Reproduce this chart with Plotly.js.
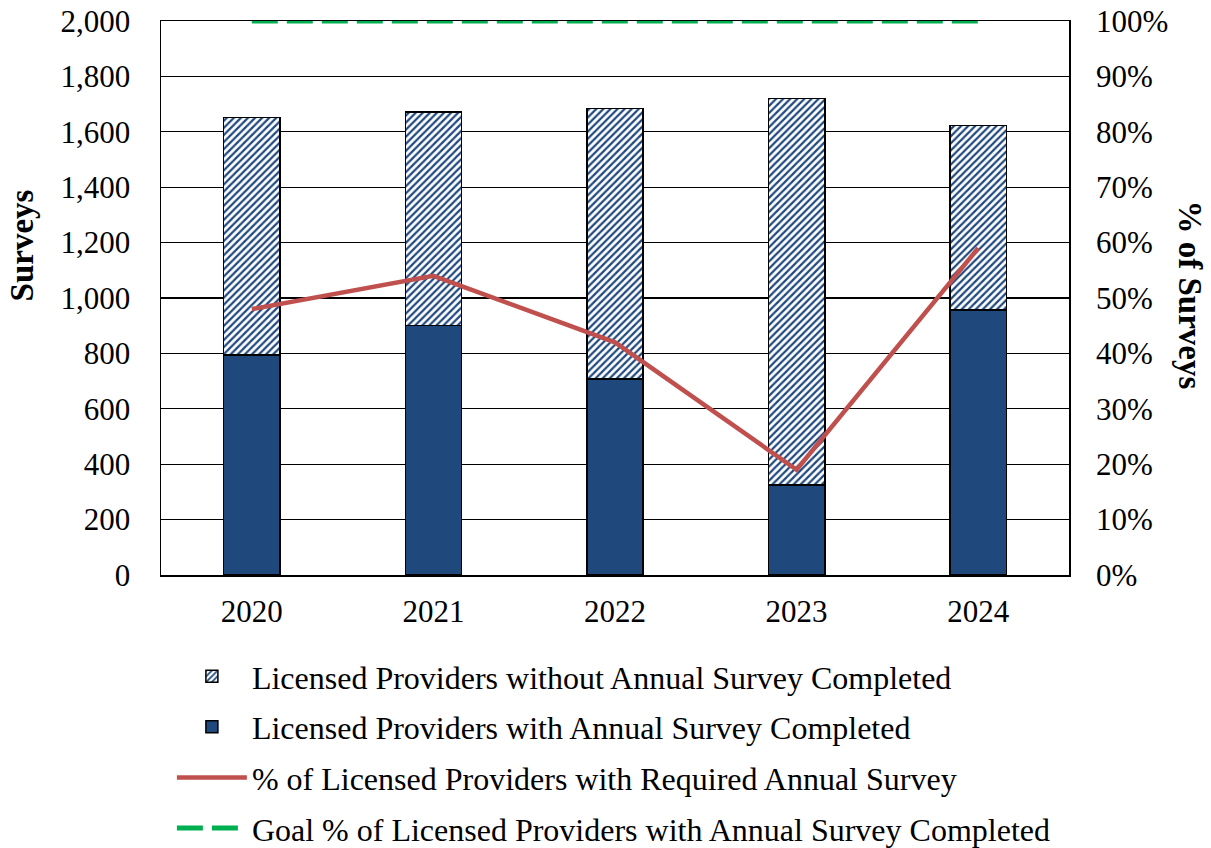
<!DOCTYPE html>
<html>
<head>
<meta charset="utf-8">
<script src="https://cdn.plot.ly/plotly-3.0.1.min.js"></script>
<style>html,body{margin:0;padding:0;background:#fff;}#chart{width:1211px;height:848px;}</style>
</head>
<body>
<div id="chart"></div>
<script>
const years = ['2020', '2021', '2022', '2023', '2024'];
const withSurvey = [794, 900, 708, 325, 957];
const withoutSurvey = [857, 771, 977, 1396, 665];
const pctRequired = [0.48, 0.54, 0.42, 0.19, 0.59];
const goalPct = [1, 1, 1, 1, 1];

const FONT = 'Liberation Serif, Times New Roman, serif';
const NAVY = '#1F497D';

const traces = [
  {
    type: 'bar', x: years, y: withSurvey,
    name: 'Licensed Providers with Annual Survey Completed',
    marker: {color: NAVY, line: {color: '#000', width: 1.5}},
    width: 0.31, legendrank: 2, legendgroup: 'b', hoverinfo: 'y'
  },
  {
    type: 'bar', x: years, y: withoutSurvey,
    name: 'Licensed Providers without Annual Survey Completed',
    marker: {color: '#fff', line: {color: '#000', width: 1.5},
      pattern: {shape: '/', fgcolor: NAVY, bgcolor: '#fff', size: 5, solidity: 0.45}},
    width: 0.31, legendrank: 1, legendgroup: 'a', hoverinfo: 'y'
  },
  {
    type: 'scatter', mode: 'lines', x: years, y: pctRequired, yaxis: 'y2',
    name: '% of Licensed Providers with Required Annual Survey',
    line: {color: '#C0504D', width: 4.5}, legendrank: 3, legendgroup: 'c'
  },
  {
    type: 'scatter', mode: 'lines', x: years, y: goalPct, yaxis: 'y2',
    name: 'Goal % of Licensed Providers with Annual Survey Completed',
    line: {color: '#00B050', width: 5, dash: '26px,9px'}, legendrank: 4, legendgroup: 'd',
    cliponaxis: false
  }
];

const layout = {
  width: 1211, height: 848,
  margin: {l: 161, r: 142, t: 21, b: 273},
  paper_bgcolor: '#fff', plot_bgcolor: '#fff',
  font: {family: FONT, size: 31, color: '#000'},
  barmode: 'stack',
  showlegend: true,
  legend: {
    xref: 'paper', yref: 'container',
    x: 0.012, xanchor: 'left', y: 0.2347, yanchor: 'top',
    orientation: 'v', traceorder: 'grouped', tracegroupgap: 6,
    itemwidth: 70, font: {family: FONT, size: 32, color: '#000'},
    bgcolor: 'rgba(0,0,0,0)'
  },
  xaxis: {
    type: 'category', showgrid: false, showline: true, linecolor: '#000', linewidth: 1.5,
    mirror: true, ticks: '', ticklabelstandoff: 8,
    tickfont: {family: FONT, size: 31, color: '#000'}
  },
  yaxis: {
    range: [0, 2000], dtick: 200, tickformat: ',', showgrid: true, gridcolor: '#000', gridwidth: 1.2,
    showline: true, linecolor: '#000', linewidth: 1.5, mirror: true, ticks: '', zeroline: false,
    ticklabelstandoff: 23, tickfont: {family: FONT, size: 31, color: '#000'}
  },
  yaxis2: {
    range: [0, 1], dtick: 0.1, tickformat: '.0%', overlaying: 'y', side: 'right',
    showgrid: false, zeroline: false, ticks: '', ticklabelstandoff: 26,
    tickfont: {family: FONT, size: 31, color: '#000'}
  },
  annotations: [
    {text: '<b>Surveys</b>', xref: 'paper', yref: 'paper', x: -0.153, y: 0.595,
     xanchor: 'center', yanchor: 'middle',
     textangle: -90, showarrow: false, font: {family: FONT, size: 33, color: '#000'}},
    {text: '<b>% of Surveys</b>', xref: 'paper', yref: 'paper', x: 1.133, y: 0.505,
     xanchor: 'center', yanchor: 'middle',
     textangle: 90, showarrow: false, font: {family: FONT, size: 33, color: '#000'}}
  ]
};

Plotly.newPlot('chart', traces, layout, {displayModeBar: false, staticPlot: true});
</script>
</body>
</html>
